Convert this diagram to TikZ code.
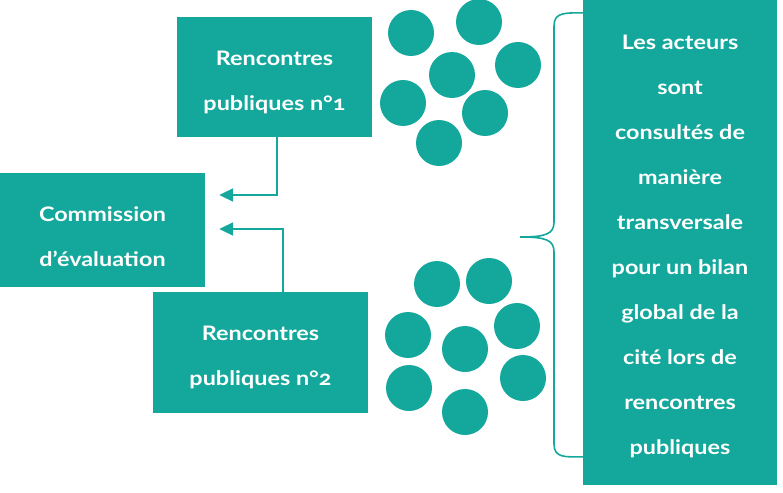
\documentclass[tikz,border=0pt]{standalone}
\usepackage{fontspec}
\setmainfont{Lato}[Numbers=OldStyle,FakeStretch=1.17]
\usetikzlibrary{arrows.meta,calc}
\definecolor{teal1}{HTML}{13A89B}
\tikzset{
  box/.style={fill=teal1, draw=none, inner sep=0pt},
  txt/.style={text=white, align=center, inner sep=0pt,
    font=\fontsize{20}{45}\selectfont\bfseries},
  dot/.style={circle, fill=teal1, draw=none, minimum size=46pt, inner sep=0pt},
  arr/.style={draw=teal1, line width=2pt, -{Triangle[length=14pt,width=13pt]}, shorten >=14pt},
  brace/.style={draw=teal1, line width=1.6pt}
}
\begin{document}
\begin{tikzpicture}[x=1pt,y=-1pt]
\useasboundingbox (0,0) rectangle (783,492);
\node[box, minimum width=195pt, minimum height=120pt] (b1) at (274.5,77) {};
\node[txt] (b1t) at ($(b1)+(0,5)$) {Rencontres\\publiques n°1};
\node[box, minimum width=205pt, minimum height=114pt] (cm) at (102.5,230) {};
\node[txt] (cmt) at ($(cm)+(0,7)$) {Commission\\d{\char"0027}évaluation};
\node[box, minimum width=215pt, minimum height=121pt] (b2) at (260.5,352.5) {};
\node[txt] (b2t) at ($(b2)+(0,5)$) {Rencontres\\publiques n°2};
\node[box, minimum width=194pt, minimum height=485pt] (rt) at (680,242.5) {};
\node[txt] (rtt) at ($(rt)+(0,4)$) {Les acteurs\\sont\\consultés de\\manière\\transversale\\pour un bilan\\global de la\\cité lors de\\rencontres\\publiques};
% connectors
\draw[arr] ($(b1.south)+(2.5,0)$) |- ($(cm.east)+(0,-35)$);
\draw[arr] ($(b2.north)+(22.5,0)$) |- ($(cm.east)+(0,-1)$);
% dots top
\node[dot] (t1) at (411,33) {};
\node[dot] (t2) at (479,22) {};
\node[dot] (t3) at (518,65) {};
\node[dot] (t4) at (452,75) {};
\node[dot] (t5) at (403,103) {};
\node[dot] (t6) at (485,113) {};
\node[dot] (t7) at (439,143) {};
% dots bottom
\node[dot] (d1) at (437,284) {};
\node[dot] (d2) at (489,281) {};
\node[dot] (d3) at (408,335) {};
\node[dot] (d4) at (517,326) {};
\node[dot] (d5) at (465,349) {};
\node[dot] (d6) at (409,388) {};
\node[dot] (d7) at (523,378) {};
\node[dot] (d8) at (465,412) {};
% brace
\coordinate (bt) at ($(rt.north west)+(0,13)$);
\coordinate (bb) at ($(rt.north west)+(0,457)$);
\coordinate (tip) at (520,237);
\draw[brace] (bt) .. controls (565,13) and (554,12) .. (554,26) -- (554,222)
  .. controls (554,234) and (546,237) .. (tip)
  .. controls (546,237) and (554,240) .. (554,252) -- (554,444)
  .. controls (554,458) and (565,457) .. (bb);
\end{tikzpicture}
\end{document}
